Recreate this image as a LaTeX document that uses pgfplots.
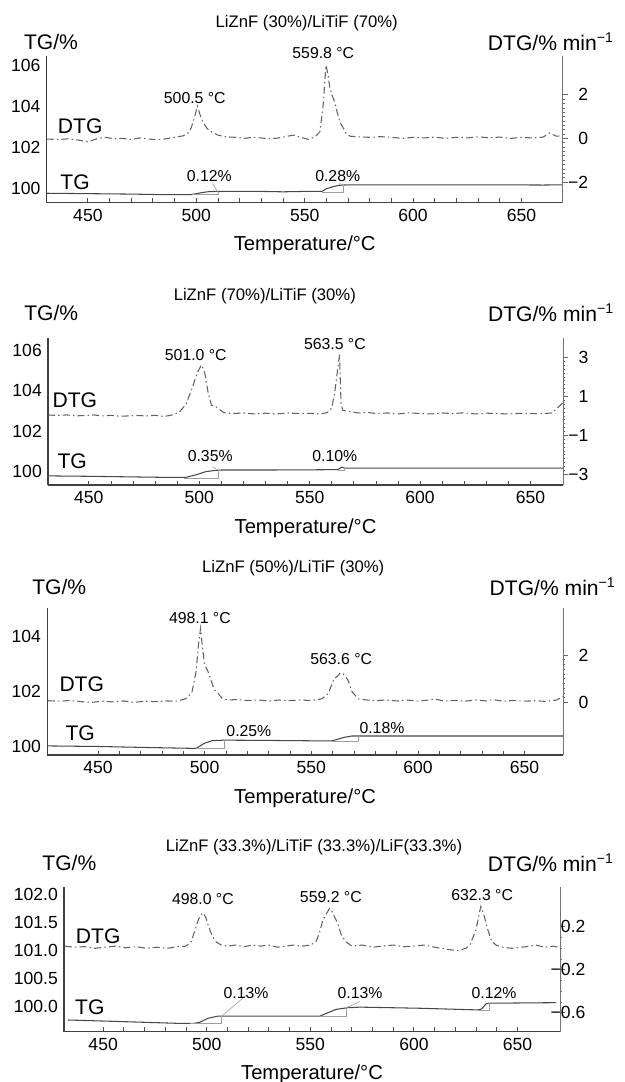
\documentclass[border=0pt]{standalone}
\usepackage{fontspec}
\setmainfont{Liberation Sans}
\usepackage{pgfplots}
\pgfplotsset{compat=1.18}

\pgfplotsset{
  tgax/.style={
    scale only axis, clip=false,
    axis x line=bottom, axis y line=left,
    axis line style={-, draw=black!75, line width=0.6pt},
    xtick={450,500,550,600,650}, xticklabels={450,500,550,600,650},
    minor x tick num=4,
    tick align=inside, major tick length=2.5pt, minor tick length=2.5pt,
    x tick style={draw=black!70, line width=0.5pt},
    y tick style={draw=none},
    tick label style={font=\fontsize{10}{12}\selectfont, text=black},
    xlabel={Temperature/°C},
    xlabel style={font=\fontsize{11.5}{13}\selectfont, at={(axis description cs:0.5,0)}, yshift=-24.5pt, anchor=center},
  },
  dtgax/.style={
    scale only axis, clip=false,
    axis x line=none, axis y line*=right, xtick=\empty,
    axis line style={-, draw=black!55, line width=0.5pt},
    tick align=outside, major tick length=3pt, minor tick length=1.2pt,
    minor y tick num=9,
    y tick style={draw=black!60, line width=0.4pt},
    yticklabel style={font=\fontsize{10}{12}\selectfont, text=black, anchor=east, xshift=15pt},
  },
  tgline/.style={black!72, line width=0.6pt},
  dtgline/.style={black!62, line width=0.6pt, dash pattern=on 4pt off 1.8pt on 0.8pt off 1.8pt},
  stepline/.style={black!38, line width=0.35pt},
}
\tikzset{
  ttl/.style={font=\fontsize{9.5}{11}\selectfont},
  unit/.style={font=\fontsize{12}{14}\selectfont},
  crv/.style={font=\fontsize{12}{14}\selectfont},
  pk/.style={font=\fontsize{9}{10}\selectfont},
}

\begin{document}
\begin{tikzpicture}
\path[use as bounding box] (0,0) rectangle (12.5cm,-21.64cm);

% ---------- panel 1 ----------
\begin{axis}[tgax, at={(0.934cm,-4.054cm)}, anchor=south west,
  width=10.32cm, height=2.934cm,
  xmin=431, xmax=669, ymin=99.30, ymax=106.44,
  ytick={100,102,104,106}, yticklabels={100,102,104,106}]
\addplot[tgline] coordinates {
(431,99.76)(450,99.74)(470,99.72)(485,99.69)(497,99.69)(500,99.74)(503,99.80)(506,99.84)(510,99.85)
(530,99.85)(540,99.83)(550,99.85)(558,99.85)(560,99.98)(563,100.08)(566,100.15)(570,100.17)
(600,100.17)(640,100.17)(660,100.16)(669,100.17)};
\addplot[stepline] coordinates {(498,99.70)(510,99.70)(510,99.81)};
\addplot[stepline] coordinates {(507.5,100.24)(510,99.81)};
\addplot[stepline] coordinates {(558,99.82)(568,99.82)(568,100.14)};
\addplot[stepline] coordinates {(566,100.24)(568,100.14)};
\node[ttl] at (rel axis cs:0.504,1.227) {LiZnF (30\%)/LiTiF (70\%)};
\node[unit, anchor=west] at (rel axis cs:-0.056,1.097) {TG/\%};
\node[unit, anchor=east] at (rel axis cs:1.111,1.097) {DTG/\% min\textsuperscript{−1}};
\node[crv] at (rel axis cs:0.065,0.523) {DTG};
\node[crv] at (rel axis cs:0.055,0.141) {TG};
\node[pk] at (rel axis cs:0.287,0.714) {500.5 °C};
\node[pk] at (rel axis cs:0.536,1.020) {559.8 °C};
\node[pk] at (rel axis cs:0.315,0.182) {0.12\%};
\node[pk] at (rel axis cs:0.564,0.182) {0.28\%};
\end{axis}
\begin{axis}[dtgax, at={(0.934cm,-4.054cm)}, anchor=south west,
  width=10.32cm, height=2.934cm,
  xmin=431, xmax=669, ymin=-2.95, ymax=3.78,
  ytick={-2,0,2}, yticklabels={−2,0,2}]
\addplot[dtgline] coordinates {
(431,-0.03)(436,-0.05)(441,-0.02)(446,-0.08)(450,-0.16)(454,-0.02)(458,0.05)(462,-0.02)(466,0.0)
(470,-0.05)(474,0.02)(478,-0.03)(482,-0.06)(486,-0.02)(490,0.05)(494,0.12)(497,0.3)(499,0.9)
(500.5,1.48)(502,1.0)(503.5,0.69)(505,0.45)(507,0.3)(510,0.15)(514,0.07)(518,0.05)(522,0.0)
(526,0.05)(530,0.02)(534,-0.02)(538,0.02)(542,0.1)(545,0.15)(548,0.05)(552,-0.05)(555,0.1)
(557,0.3)(558.5,1.5)(559.8,3.36)(560.8,2.9)(561.5,2.37)(562.5,2.0)(563.5,1.76)(564.5,1.4)
(565.5,0.99)(566.5,0.7)(567.5,0.53)(569,0.25)(571,0.1)(575,0.07)(580,0.05)(585,0.08)(590,0.05)
(595,0.0)(600,0.05)(605,0.02)(610,0.06)(615,0.0)(620,0.05)(625,0.02)(630,0.07)(635,0.03)
(640,0.06)(645,0.0)(650,0.05)(655,0.02)(660,0.06)(663,0.25)(666,0.1)(669,0.12)};
\end{axis}

% ---------- panel 2 ----------
\begin{axis}[tgax, at={(0.96cm,-9.70cm)}, anchor=south west,
  width=10.30cm, height=2.94cm,
  xmin=431.5, xmax=664.7, ymin=99.34, ymax=106.6,
  ytick={100,102,104,106}, yticklabels={100,102,104,106}]
\addplot[tgline] coordinates {
(431.5,99.79)(450,99.77)(470,99.74)(483,99.72)(494,99.72)(498.4,99.84)(503,100.0)(507,100.06)
(510,100.08)(530,100.08)(550,100.09)(562.7,100.10)(564.5,100.22)(566,100.17)(600,100.17)
(640,100.17)(664.7,100.17)};
\addplot[stepline] coordinates {(493,99.67)(508.4,99.67)(508.4,100.08)};
\addplot[stepline] coordinates {(506,100.24)(508.4,100.08)};
\addplot[stepline] coordinates {(562.7,100.09)(565.5,100.09)(565.5,100.2)};
\node[ttl] at (rel axis cs:0.421,1.286) {LiZnF (70\%)/LiTiF (30\%)};
\node[unit, anchor=west] at (rel axis cs:-0.058,1.172) {TG/\%};
\node[unit, anchor=east] at (rel axis cs:1.111,1.172) {DTG/\% min\textsuperscript{−1}};
\node[crv] at (rel axis cs:0.052,0.578) {DTG};
\node[crv] at (rel axis cs:0.047,0.163) {TG};
\node[pk] at (rel axis cs:0.287,0.884) {501.0 °C};
\node[pk] at (rel axis cs:0.557,0.959) {563.5 °C};
\node[pk] at (rel axis cs:0.315,0.197) {0.35\%};
\node[pk] at (rel axis cs:0.557,0.197) {0.10\%};
\end{axis}
\begin{axis}[dtgax, at={(0.96cm,-9.70cm)}, anchor=south west,
  width=10.30cm, height=2.94cm,
  xmin=431.5, xmax=664.7, ymin=-3.55, ymax=4.0,
  ytick={-3,-1,1,3}, yticklabels={−3,−1,1,3}]
\addplot[dtgline] coordinates {
(431.5,0.05)(436,0.02)(440,0.05)(444,0.0)(448,0.02)(452,0.05)(456,0.0)(460,0.03)(464,-0.02)
(468,0.0)(472,0.02)(476,0.0)(480,0.03)(484,-0.03)(488,0.05)(491,0.2)(494,0.6)(497,1.5)(499,2.2)
(501,2.62)(502.5,2.2)(504,1.2)(505.5,0.55)(507.5,0.48)(509,0.35)(511,0.17)(515,0.12)(520,0.15)
(525,0.1)(530,0.14)(535,0.1)(540,0.15)(545,0.12)(550,0.13)(555,0.1)(558,0.17)(560,0.4)
(561.5,1.34)(563.5,3.14)(564.2,0.6)(565,0.28)(568,0.22)(572,0.15)(576,0.18)(580,0.12)(585,0.15)
(590,0.1)(595,0.16)(600,0.12)(605,0.1)(610,0.15)(615,0.12)(620,0.16)(625,0.1)(630,0.14)
(635,0.12)(640,0.1)(645,0.13)(650,0.12)(655,0.12)(660,0.15)(662,0.4)(664.5,0.65)};
\end{axis}

% ---------- panel 3 ----------
\begin{axis}[tgax, at={(0.944cm,-15.10cm)}, anchor=south west,
  width=10.316cm, height=2.94cm,
  xmin=426.2, xmax=668, ymin=99.70, ymax=105.04,
  ytick={100,102,104}, yticklabels={100,102,104}]
\addplot[tgline] coordinates {
(426.5,100.03)(450,100.01)(475,99.97)(496,99.94)(499.7,100.12)(503.5,100.22)(509.1,100.24)
(530,100.23)(559.6,100.21)(565.3,100.34)(569,100.39)(600,100.39)(640,100.39)(668,100.39)};
\addplot[stepline] coordinates {(496,99.94)(509.1,99.94)(509.1,100.26)};
\addplot[stepline] coordinates {(559.6,100.21)(572,100.21)(572,100.38)};
\node[ttl] at (rel axis cs:0.477,1.272) {LiZnF (50\%)/LiTiF (30\%)};
\node[unit, anchor=west] at (rel axis cs:-0.041,1.145) {TG/\%};
\node[unit, anchor=east] at (rel axis cs:1.114,1.145) {DTG/\% min\textsuperscript{−1}};
\node[crv] at (rel axis cs:0.067,0.483) {DTG};
\node[crv] at (rel axis cs:0.064,0.150) {TG};
\node[pk] at (rel axis cs:0.296,0.932) {498.1 °C};
\node[pk] at (rel axis cs:0.570,0.653) {563.6 °C};
\node[pk] at (rel axis cs:0.391,0.163) {0.25\%};
\node[pk] at (rel axis cs:0.649,0.184) {0.18\%};
\end{axis}
\begin{axis}[dtgax, at={(0.944cm,-15.10cm)}, anchor=south west,
  width=10.316cm, height=2.94cm,
  xmin=426.2, xmax=668, ymin=-2.22, ymax=3.98,
  ytick={0,2}, yticklabels={0,2}]
\addplot[dtgline] coordinates {
(426.5,0.07)(432,0.05)(437,0.08)(442,0.03)(447,0.0)(452,0.05)(457,0.02)(462,0.06)(467,0.0)
(472,0.05)(477,0.03)(482,0.06)(487,0.05)(491,0.15)(494,0.4)(496,1.3)(497.3,2.6)(498.1,3.12)
(499,2.3)(500,1.6)(501.6,1.3)(503,0.95)(504.4,0.55)(506.3,0.38)(508.2,0.17)(511,0.1)(515,0.12)
(520,0.08)(525,0.1)(530,0.06)(535,0.1)(540,0.07)(545,0.1)(550,0.08)(555,0.15)(558,0.38)
(560.7,1.0)(562.5,1.12)(563.6,1.25)(565,1.2)(567.2,0.94)(569.1,0.45)(572,0.15)(576,0.1)(580,0.07)
(585,0.1)(590,0.06)(595,0.1)(600,0.05)(605,0.1)(608,0.14)(612,0.06)(617,0.08)(622,0.05)
(627,0.1)(632,0.06)(635,0.12)(640,0.05)(645,0.08)(650,0.05)(655,0.07)(660,0.04)(665,0.1)(668,0.25)};
\end{axis}

% ---------- panel 4 ----------
\begin{axis}[tgax, at={(1.28cm,-20.634cm)}, anchor=south west,
  width=9.92cm, height=2.894cm,
  xmin=431.1, xmax=670.5, ymin=99.55, ymax=102.14,
  ytick={100,100.5,101,101.5,102}, yticklabels={100.0,100.5,101.0,101.5,102.0}]
\addplot[tgline] coordinates {
(433,99.76)(460,99.73)(486,99.70)(493.8,99.70)(496.7,99.72)(500.6,99.79)(505.4,99.83)
(520,99.83)(554.7,99.83)(558.5,99.89)(562.4,99.95)(568.2,99.98)(574,99.99)(602.9,99.97)
(630.9,99.94)(632.8,99.96)(634.8,100.05)(636.7,100.06)(668.6,100.07)};
\addplot[stepline] coordinates {(491.9,99.70)(507.2,99.70)(507.2,99.84)};
\addplot[stepline] coordinates {(519.3,100.21)(507.2,99.83)};
\addplot[stepline] coordinates {(554.7,99.83)(567.5,99.83)(567.5,99.98)};
\addplot[stepline] coordinates {(573.9,100.09)(567.5,99.98)};
\addplot[stepline] coordinates {(630.9,99.94)(636.4,99.94)(636.4,100.06)};
\node[ttl] at (rel axis cs:0.504,1.276) {LiZnF (33.3\%)/LiTiF (33.3\%)/LiF(33.3\%)};
\node[unit, anchor=west] at (rel axis cs:-0.056,1.166) {TG/\%};
\node[unit, anchor=east] at (rel axis cs:1.121,1.166) {DTG/\% min\textsuperscript{−1}};
\node[crv] at (rel axis cs:0.069,0.661) {DTG};
\node[crv] at (rel axis cs:0.052,0.171) {TG};
\node[pk] at (rel axis cs:0.280,0.917) {498.0 °C};
\node[pk] at (rel axis cs:0.538,0.932) {559.2 °C};
\node[pk] at (rel axis cs:0.843,0.945) {632.3 °C};
\node[pk] at (rel axis cs:0.367,0.267) {0.13\%};
\node[pk] at (rel axis cs:0.597,0.267) {0.13\%};
\node[pk] at (rel axis cs:0.867,0.267) {0.12\%};
\end{axis}
\begin{axis}[dtgax, at={(1.28cm,-20.634cm)}, anchor=south west,
  width=9.92cm, height=2.894cm,
  xmin=431.1, xmax=670.5, ymin=-0.776, ymax=0.57,
  ytick={-0.6,-0.2,0.2}, yticklabels={−0.6,−0.2,0.2}, minor y tick num=3]
\addplot[dtgline] coordinates {
(431.5,0.02)(436,0.01)(441,0.015)(446,0.0)(451,0.01)(456,0.02)(461,0.005)(466,0.015)(471,0.0)
(476,0.01)(481,0.0)(486,0.015)(490,0.02)(492.5,0.06)(494.5,0.18)(496,0.27)(498,0.33)(499.5,0.29)
(500.6,0.22)(502.5,0.12)(504.5,0.06)(507,0.03)(510,0.02)(514,0.03)(518,0.015)(522,0.03)(526,0.02)
(530,0.03)(534,0.01)(538,0.02)(542,0.03)(546,0.02)(550,0.03)(552.7,0.06)(554.5,0.15)(556,0.26)
(558,0.33)(559.2,0.37)(560.5,0.34)(562,0.28)(563.3,0.23)(565,0.12)(567.2,0.06)(570,0.02)(575,0.03)
(580,0.01)(585,0.02)(590,0.03)(595,0.015)(600,0.02)(605,0.03)(610,0.01)(613,0.0)(618,-0.015)
(622,-0.02)(625,0.0)(627,0.03)(629.9,0.17)(631.5,0.32)(632.3,0.39)(633.5,0.33)(635.7,0.17)
(637.5,0.07)(639.6,0.03)(643,0.01)(647,0.0)(652,0.01)(656,0.02)(659,0.03)(663,0.01)(667,0.02)(670,0.01)};
\end{axis}
\end{tikzpicture}
\end{document}
